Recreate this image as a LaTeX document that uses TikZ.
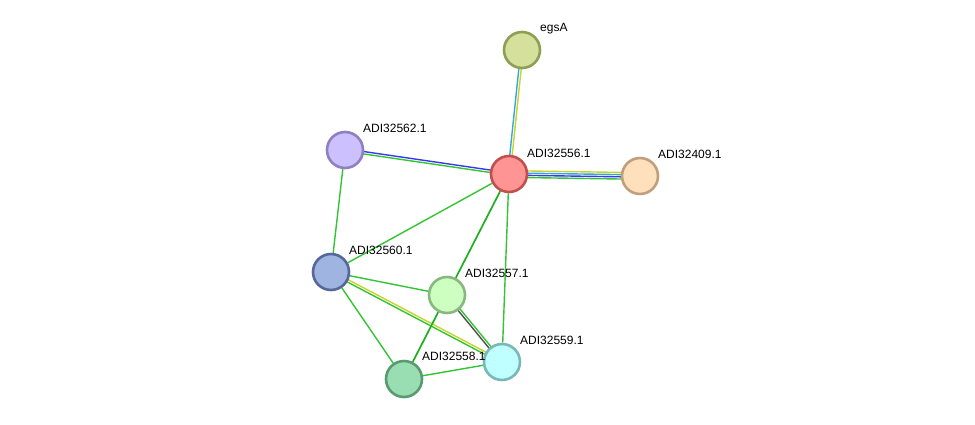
\documentclass[tikz,border=0pt]{standalone}
\usepackage{fontspec}
\setmainfont{Liberation Sans}
\usetikzlibrary{calc}
\pgfdeclarelayer{bg}
\pgfsetlayers{bg,main}
\definecolor{eg}{HTML}{33C433}
\definecolor{egd}{HTML}{1DB01D}
\definecolor{ey}{HTML}{C8D42C}
\definecolor{ec}{HTML}{34A8D8}
\definecolor{eb}{HTML}{3838F0}
\definecolor{ek}{HTML}{505050}
\definecolor{fegs}{HTML}{D4E09B}\definecolor{begs}{HTML}{8F9E55}
\definecolor{f556}{HTML}{FF9494}\definecolor{b556}{HTML}{C0504D}
\definecolor{f409}{HTML}{FFE0BD}\definecolor{b409}{HTML}{C0A07A}
\definecolor{f562}{HTML}{CCC0FF}\definecolor{b562}{HTML}{8F80C0}
\definecolor{f560}{HTML}{9FB4E0}\definecolor{b560}{HTML}{56689A}
\definecolor{f557}{HTML}{CCFFC0}\definecolor{b557}{HTML}{88B880}
\definecolor{f559}{HTML}{C0FFFF}\definecolor{b559}{HTML}{7AB8B8}
\definecolor{f558}{HTML}{99DDB3}\definecolor{b558}{HTML}{5A9A70}
\newcommand\pedge[4]{\draw[#4] ($(#1.center)!#3!90:(#2.center)$) -- ($(#2.center)!#3!-90:(#1.center)$);}
\begin{document}
\begin{tikzpicture}[x=1pt,y=-1pt,
  prot/.style={circle,minimum size=36pt,inner sep=0pt,line width=2.6pt},
  lab/.style={anchor=west,font=\fontsize{12}{14}\selectfont,inner sep=0pt},
  ed/.style={line width=1.4pt}]
\useasboundingbox (0,0) rectangle (975,424);
% nodes
\node[prot,fill=fegs,draw=begs] (egs) at (522,50) {};
\node[prot,fill=f556,draw=b556] (n556) at (509,174) {};
\node[prot,fill=f409,draw=b409] (n409) at (640,176) {};
\node[prot,fill=f562,draw=b562] (n562) at (345,150) {};
\node[prot,fill=f560,draw=b560] (n560) at (331,272) {};
\node[prot,fill=f557,draw=b557] (n557) at (447,295) {};
\node[prot,fill=f559,draw=b559] (n559) at (502,362) {};
\node[prot,fill=f558,draw=b558] (n558) at (404,379) {};
% labels
\node[lab] (legs) at (540,28.5) {egsA};
\node[lab] (l556) at (527,153) {ADI32556.1};
\node[lab] (l409) at (658,154) {ADI32409.1};
\node[lab] (l562) at (363,128) {ADI32562.1};
\node[lab] (l560) at (349,250) {ADI32560.1};
\node[lab] (l557) at (465,273) {ADI32557.1};
\node[lab] (l559) at (520,340) {ADI32559.1};
\node[lab] (l558) at (422,356) {ADI32558.1};
% edges
\begin{pgfonlayer}{bg}
\pedge{egs}{n556}{-1.2pt}{ed,ec}
\pedge{egs}{n556}{1.2pt}{ed,ey}
\pedge{n562}{n556}{1.2pt}{ed,eb}
\pedge{n562}{n556}{-1.2pt}{ed,eg}
\pedge{n556}{n409}{3.3pt}{ed,ey}
\pedge{n556}{n409}{1.1pt}{ed,ec}
\pedge{n556}{n409}{-1.1pt}{ed,eb}
\pedge{n556}{n409}{-3.3pt}{ed,eg}
\draw[ed,eg] (n556) -- (n560);
\draw[ed,egd,line width=1.7pt] (n556) -- (n557);
\draw[ed,eg] (n556) -- (n559);
\draw[ed,eg] (n562) -- (n560);
\draw[ed,eg] (n560) -- (n557);
\pedge{n560}{n559}{1.2pt}{ed,ey}
\pedge{n560}{n559}{-1.2pt}{ed,eg}
\draw[ed,eg] (n560) -- (n558);
\pedge{n557}{n559}{-1.2pt}{ed,ek}
\pedge{n557}{n559}{1.2pt}{ed,eg}
\draw[ed,egd,line width=1.7pt] (n557) -- (n558);
\draw[ed,eg] (n558) -- (n559);
\end{pgfonlayer}
\end{tikzpicture}
\end{document}
